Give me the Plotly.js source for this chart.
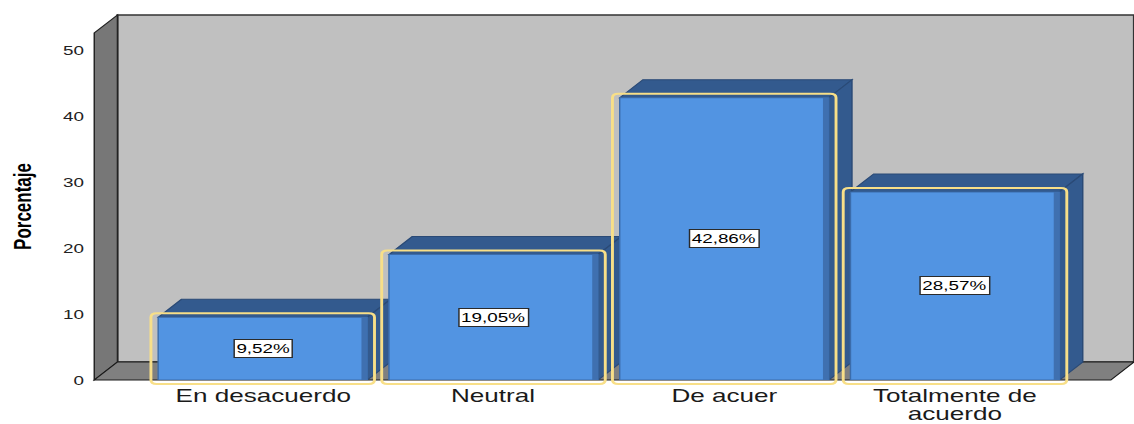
<!DOCTYPE html>
<html>
<head>
<meta charset="utf-8">
<script src="https://cdn.plot.ly/plotly-3.0.1.min.js"></script>
<style>
  html, body { margin: 0; padding: 0; background: #ffffff; overflow: hidden; }
  /* the chart is laid out narrow and widened horizontally */
  #chart { width: 782px; height: 424px; transform: scaleX(1.4501); transform-origin: 0 0; }
</style>
</head>
<body>
<div id="chart"></div>
<script>
// ---- data ----
const categories = ["En desacuerdo", "Neutral", "De acuerdo", "Totalmente de acuerdo"];
const tickLines = [["En desacuerdo"], ["Neutral"], ["De acuer"], ["Totalmente de", "acuerdo"]];
const percentages = [9.52, 19.05, 42.86, 28.57];
const yTicks = [0, 10, 20, 30, 40, 50];

// ---- geometry ----
const W = 782, H = 424;
const M = { l: 65, r: 16, t: 33, b: 44 };
const PW = W - M.l - M.r, PH = H - M.t - M.b;
const X_RANGE = [-0.73, 3.675];
const Y_RANGE = [0, 52.7];
const BAR_W = 0.906;
const DEPTH_X = 16, DEPTH_Y = 18;          // pixel depth of the 3D box

const ux = PW / (X_RANGE[1] - X_RANGE[0]);  // px per category unit
const uy = PH / (Y_RANGE[1] - Y_RANGE[0]);  // px per percent
const ddx = DEPTH_X / ux, ddy = DEPTH_Y / uy;
const pdx = DEPTH_X / PW, pdy = DEPTH_Y / PH;

const FONT = "Liberation Sans, Arial, sans-serif";
const FRONT = "#5294e2", SIDE = "#335a8e", SIDE_LINE = "#2a4a76";
const xs = categories.map((_, i) => i);

const shapes = [];
// back wall
shapes.push({ type: "rect", xref: "paper", yref: "paper", layer: "below",
  x0: pdx, x1: 1 + pdx, y0: pdy, y1: 1 + pdy,
  fillcolor: "#c0c0c0", line: { color: "#333333", width: 1.5 } });
// left wall
shapes.push({ type: "path", xref: "paper", yref: "paper", layer: "below",
  path: `M0,0 L${pdx},${pdy} L${pdx},${1 + pdy} L0,1 Z`,
  fillcolor: "#777777", line: { color: "#222222", width: 1 } });
// floor
shapes.push({ type: "path", xref: "paper", yref: "paper", layer: "below",
  path: `M0,0 L1,0 L${1 + pdx},${pdy} L${pdx},${pdy} Z`,
  fillcolor: "#808080", line: { color: "#1a1a1a", width: 1 } });

// top and side faces of every bar
xs.forEach((x, i) => {
  const v = percentages[i];
  const xl = x - BAR_W / 2, xr = x + BAR_W / 2;
  shapes.push({ type: "path", xref: "x", yref: "y", layer: "below",
    path: `M${xl},${v} L${xl + ddx},${v + ddy} L${xr + ddx},${v + ddy} L${xr},${v} Z`,
    fillcolor: SIDE, line: { color: SIDE_LINE, width: 1 } });
  shapes.push({ type: "path", xref: "x", yref: "y", layer: "below",
    path: `M${xr},${v} L${xr + ddx},${v + ddy} L${xr + ddx},${ddy} L${xr},0 Z`,
    fillcolor: SIDE, line: { color: SIDE_LINE, width: 1 } });
  // shaded strip along the right edge of the front face
  shapes.push({ type: "rect", xref: "x", yref: "y", layer: "above",
    x0: xr - 4 / ux, x1: xr, y0: 0, y1: v,
    fillcolor: "#3f70b0", line: { width: 0 } });
});

// rounded highlight frame around each front face
xs.forEach((x, i) => {
  const v = percentages[i];
  const x0 = x - BAR_W / 2 - 5 / ux, x1 = x + BAR_W / 2 + 5 / ux;
  const y0 = -4 / PH, y1 = (v - Y_RANGE[0]) / (Y_RANGE[1] - Y_RANGE[0]) + 4 / PH;
  const rx = 4 / ux, ry = 4 / PH;
  shapes.push({ type: "path", xref: "x", yref: "paper", layer: "above",
    path: `M${x0 + rx},${y0} L${x1 - rx},${y0} Q${x1},${y0} ${x1},${y0 + ry} ` +
          `L${x1},${y1 - ry} Q${x1},${y1} ${x1 - rx},${y1} L${x0 + rx},${y1} ` +
          `Q${x0},${y1} ${x0},${y1 - ry} L${x0},${y0 + ry} Q${x0},${y0} ${x0 + rx},${y0} Z`,
    fillcolor: "rgba(0,0,0,0)", line: { color: "#f8df88", width: 2 } });
});

const annotations = [];
// value labels
xs.forEach((x, i) => {
  const v = percentages[i];
  annotations.push({ x: x, y: v / 2, xref: "x", yref: "y", showarrow: false,
    text: v.toFixed(2).replace(".", ",") + "%",
    font: { family: FONT, size: 13, color: "#000000" },
    bgcolor: "#ffffff", bordercolor: "#2a2a2a", borderwidth: 1, borderpad: 1 });
});
// category labels (wrapped lines set closely together)
xs.forEach((x, i) => {
  tickLines[i].forEach((line, k) => {
    annotations.push({ x: x, y: 0, xref: "x", yref: "paper", showarrow: false,
      yanchor: "middle", yshift: -16 - 18 * k, text: line,
      font: { family: FONT, size: 18, color: "#1a1a1a" } });
  });
});

const trace = {
  type: "bar", x: xs, y: percentages, width: BAR_W,
  text: categories, hoverinfo: "text+y", textposition: "none",
  marker: { color: FRONT, line: { color: "#3b6cab", width: 1 } }
};

const layout = {
  width: W, height: H, margin: M,
  paper_bgcolor: "#ffffff", plot_bgcolor: "rgba(0,0,0,0)",
  showlegend: false,
  xaxis: { range: X_RANGE, showticklabels: false, showgrid: false, zeroline: false,
           showline: false, ticks: "", fixedrange: true },
  yaxis: { range: Y_RANGE, tickvals: yTicks, showgrid: false, zeroline: false,
           showline: false, ticks: "", ticklabelstandoff: 6, fixedrange: true,
           tickfont: { family: FONT, size: 13, color: "#222222" },
           title: { text: "Porcentaje", standoff: 17,
                    font: { family: FONT, size: 17, color: "#000000", weight: 700 } } },
  shapes: shapes, annotations: annotations
};

Plotly.newPlot("chart", [trace], layout, { displayModeBar: false, staticPlot: true });
</script>
</body>
</html>
